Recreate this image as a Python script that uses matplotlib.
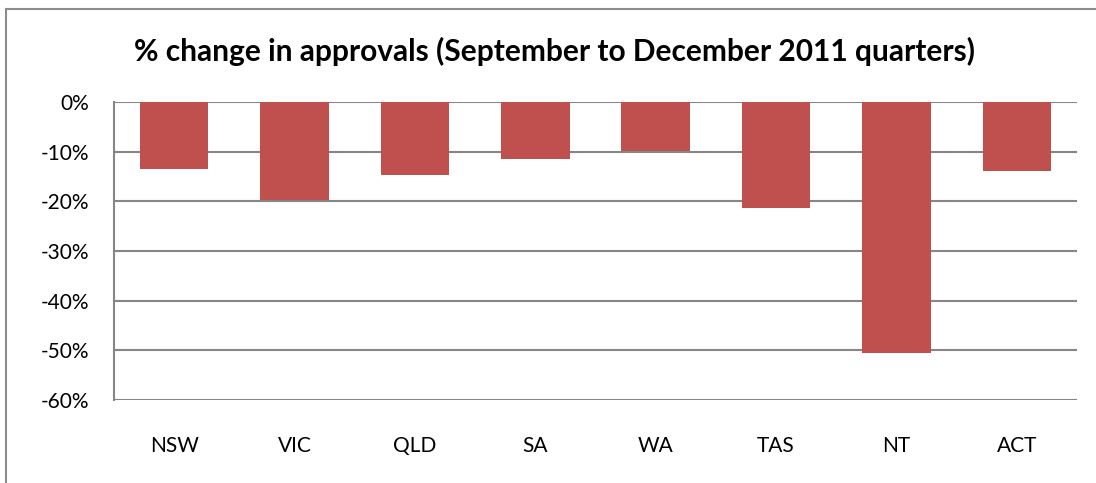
import matplotlib
matplotlib.use("Agg")
import matplotlib.pyplot as plt
from matplotlib.lines import Line2D
from matplotlib.ticker import FuncFormatter

states = ["NSW", "VIC", "QLD", "SA", "WA", "TAS", "NT", "ACT"]
pct_change = [-13.4, -19.8, -14.6, -11.4, -9.8, -21.4, -50.5, -13.8]
yticks = [0, -10, -20, -30, -40, -50, -60]
title = "% change in approvals (September to December 2011 quarters)"

W, H = 1096, 483
fig = plt.figure(figsize=(W / 100, H / 100), dpi=100)
plt.rcParams["font.family"] = ["Lato", "DejaVu Sans"]

# chart frame: only left and top edges are visible in the crop
frame_x, frame_y = 6 / W, 1 - 9 / H
fig.lines.append(Line2D([frame_x, frame_x], [0, frame_y], transform=fig.transFigure,
                        color="#8c8c8c", lw=1.5))
fig.lines.append(Line2D([frame_x, 1], [frame_y, frame_y], transform=fig.transFigure,
                        color="#8c8c8c", lw=1.5))

ax = fig.add_axes([114 / W, 1 - 400 / H, (1077 - 114) / W, (400 - 102) / H])
x = range(len(states))
ax.bar(x, pct_change, width=0.57, color="#C0504D", zorder=3)

ax.set_xlim(-0.5, len(states) - 0.5)
ax.set_ylim(-60, 0)
ax.set_yticks(yticks)
ax.yaxis.set_major_formatter(FuncFormatter(lambda v, _: f"{int(v)}%"))
ax.set_xticks(list(x))
ax.set_xticklabels(states)
ax.tick_params(axis="both", length=0, labelsize=15, colors="black")
ax.tick_params(axis="y", pad=18)
ax.tick_params(axis="x", pad=26)

ax.grid(axis="y", color="#868686", lw=1.5, zorder=0)
for side in ["top", "right", "bottom"]:
    ax.spines[side].set_visible(False)
ax.spines["left"].set_color("#868686")
ax.spines["left"].set_linewidth(1.5)

fig.text(555 / W, 1 - 51 / H, title, ha="center", va="center",
         fontsize=21.5, fontweight="bold")

fig.savefig("out.png", dpi=100)
